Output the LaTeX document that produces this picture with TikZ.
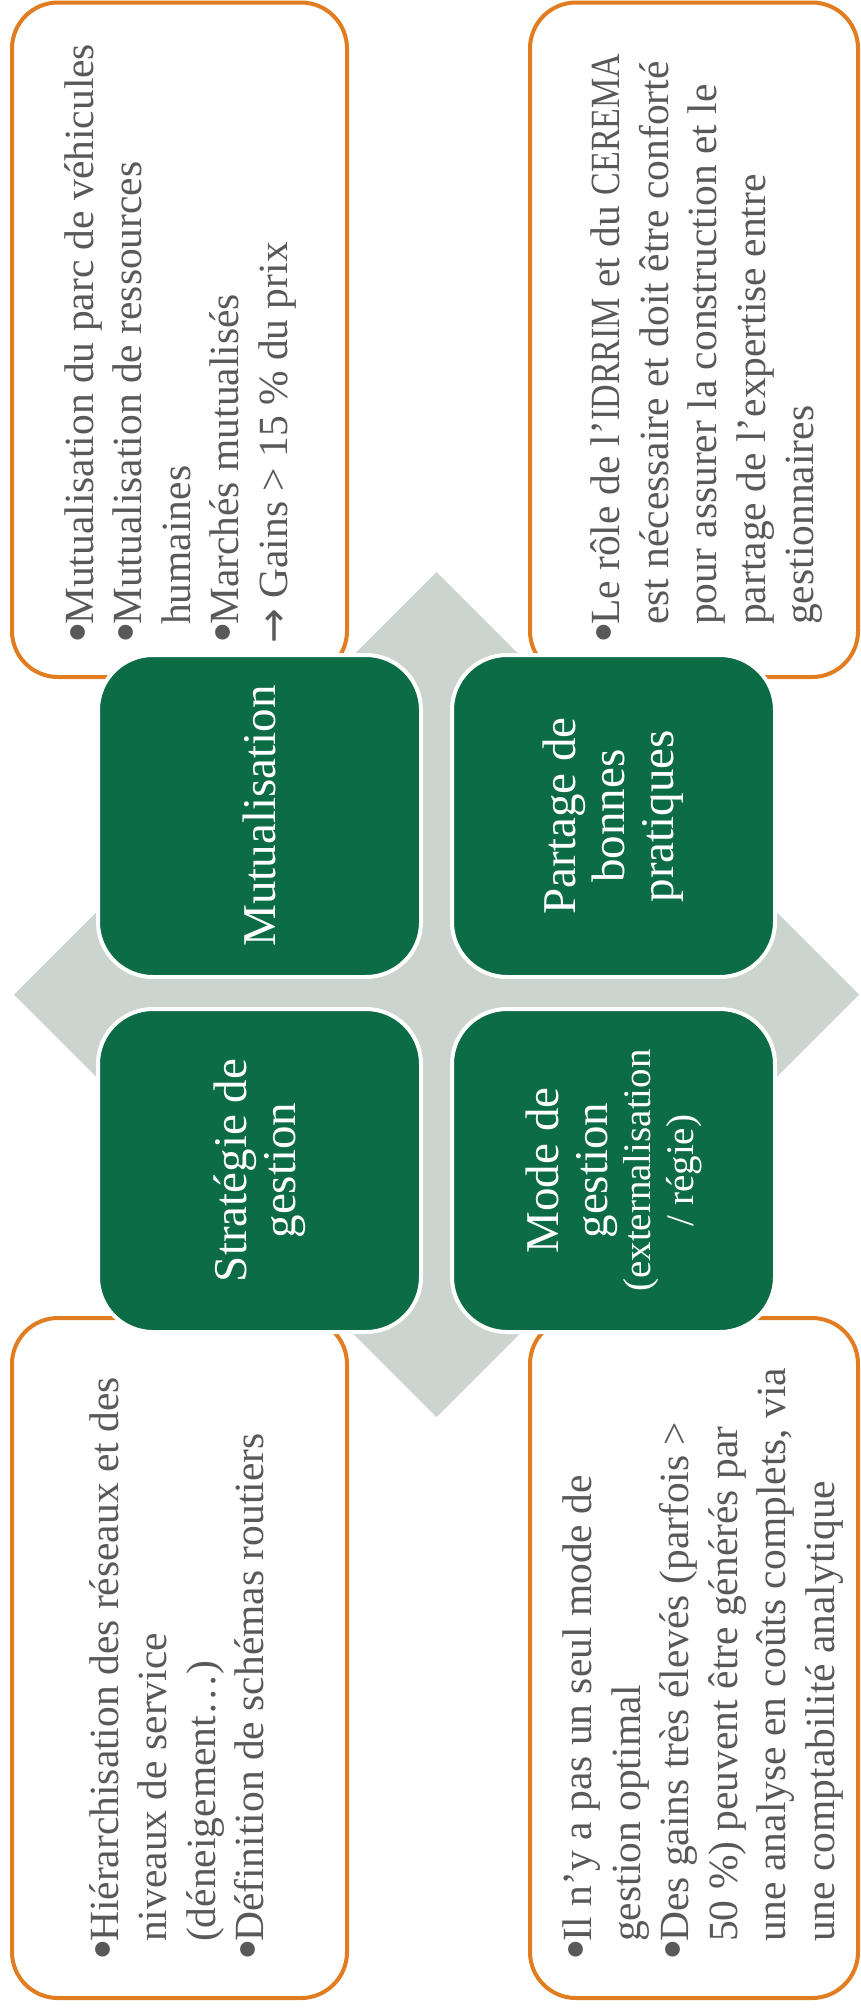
\documentclass[tikz,border=0pt]{standalone}
\usepackage{fontspec}
\setmainfont{Liberation Serif}
\newfontfamily\arrowfont{DejaVu Sans}
\newfontfamily\capsnarrow[FakeStretch=0.82]{Liberation Serif}
\definecolor{orng}{HTML}{E27C20}
\definecolor{grn}{HTML}{0C6C46}
\definecolor{diam}{HTML}{CBD4CF}
\definecolor{txtgray}{HTML}{595959}
\newcommand\bul{\makebox[19pt][l]{\raisebox{-5pt}{\fontsize{62}{48}\selectfont•}}}
\newcommand\ind{\hspace*{19pt}}
\begin{document}
\begin{tikzpicture}[x=1pt,y=-1pt,
  outerbox/.style={draw=orng, line width=4pt, rounded corners=46pt},
  greenbox/.style={fill=grn, draw=white, line width=4pt, rounded corners=55pt},
  outertext/.style={rotate=90, anchor=west, align=left, inner sep=0pt, text=txtgray, font=\fontsize{41.5}{48.5}\selectfont},
  greentext/.style={rotate=90, anchor=center, align=center, inner sep=0pt, text=white, font=\fontsize{47}{49}\selectfont}
]
\useasboundingbox (0,0) rectangle (861,2013);
\fill[white] (0,0) rectangle (861,2013);

% outer boxes
\draw[outerbox] (12,2.5) rectangle (347,677);
\draw[outerbox] (530,2.5) rectangle (858,677);
\draw[outerbox] (12,1318) rectangle (347,1998);
\draw[outerbox] (530,1318) rectangle (858,1998);

% diamond
\fill[diam] (14,994.5) -- (436.5,572) -- (859,994.5) -- (436.5,1417) -- cycle;

% green boxes
\draw[greenbox] (98,655) rectangle (421,977);
\draw[greenbox] (452,655) rectangle (775,977);
\draw[greenbox] (98,1009) rectangle (421,1332);
\draw[greenbox] (452,1009) rectangle (775,1332);

% green texts
\node[greentext] (mutu) at (259.5,816) {Mutualisation};
\node[greentext] (part) at (613.5,816) {Partage de\\bonnes\\pratiques};
\node[greentext] (strat) at (259.5,1170.5) {Stratégie de\\gestion};
\node[greentext] (mode) at (613.5,1170.5) {Mode de\\gestion\\[-6pt]{\fontsize{39}{41}\selectfont (externalisation}\\[-6pt]{\fontsize{39}{41}\selectfont / régie)}};

% outer texts
\node[outertext] (tmutu) at (180,644) {\bul Mutualisation du parc de véhicules\\
\bul Mutualisation de ressources\\
\ind humaines\\
\bul Marchés mutualisés\\
{\arrowfont →} Gains > 15 \% du prix};

\node[outertext] (tpart) at (707,644) {\bul Le rôle de l’{\capsnarrow IDRRIM} et du {\capsnarrow CEREMA}\\
\ind est nécessaire et doit être conforté\\
\ind pour assurer la construction et le\\
\ind partage de l’expertise entre\\
\ind gestionnaires};

\node[outertext] (tstrat) at (179,1961) {\bul Hiérarchisation des réseaux et des\\
\ind niveaux de service\\
\ind (déneigement…)\\
\bul Définition de schémas routiers};

\node[outertext] (tmode) at (703,1961) {\bul Il n’y a pas un seul mode de\\
\ind gestion optimal\\
\bul Des gains très élevés (parfois >\\
\ind 50 \%) peuvent être générés par\\
\ind une analyse en coûts complets, via\\
\ind une comptabilité analytique};
\end{tikzpicture}
\end{document}
